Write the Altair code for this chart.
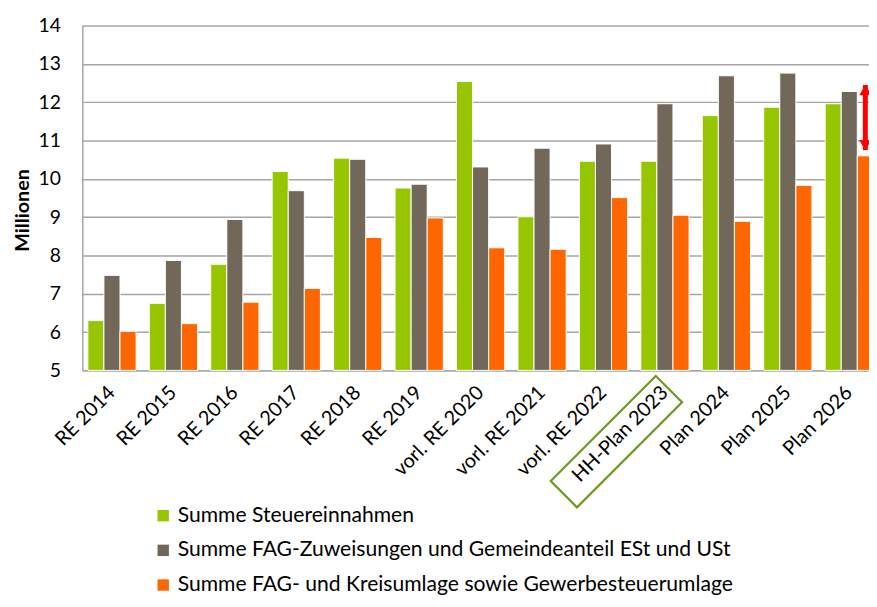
import altair as alt
import pandas as pd

categories = ["RE 2014", "RE 2015", "RE 2016", "RE 2017", "RE 2018", "RE 2019",
              "vorl. RE 2020", "vorl. RE 2021", "vorl. RE 2022", "HH-Plan 2023",
              "Plan 2024", "Plan 2025", "Plan 2026"]
series = ["Summe Steuereinnahmen",
          "Summe FAG-Zuweisungen und Gemeindeanteil ESt und USt",
          "Summe FAG- und Kreisumlage sowie Gewerbesteuerumlage"]
steuer = [6.30, 6.75, 7.77, 10.19, 10.54, 9.76, 12.54, 9.01, 10.46, 10.46, 11.65, 11.87, 11.96]
fag = [7.48, 7.87, 8.94, 9.69, 10.51, 9.86, 10.31, 10.80, 10.91, 11.96, 12.69, 12.76, 12.28]
umlage = [6.02, 6.22, 6.78, 7.14, 8.47, 8.98, 8.20, 8.16, 9.51, 9.05, 8.89, 9.83, 10.60]
colors = ["#95C600", "#72685A", "#FF6600"]
y_ticks = [5, 6, 7, 8, 9, 10, 11, 12, 13, 14]

arrow_category = ["Plan 2026"]
arrow_top = [12.45]
arrow_bottom = [10.75]
box_category = ["HH-Plan 2023"]

FONT = "Lato"

rows = []
for i, c in enumerate(categories):
    for s, vals in zip(series, [steuer, fag, umlage]):
        rows.append({"Kategorie": c, "Reihe": s, "Wert": vals[i]})
df = pd.DataFrame(rows)

x_scale = alt.Scale(domain=categories, range=[0, 804], paddingInner=0.215, paddingOuter=0.09)
y_scale = alt.Scale(domain=[5, 14], zero=False, nice=False)
xo_scale = alt.Scale(domain=series, paddingInner=0, paddingOuter=0)

x_axis = alt.Axis(title=None, labelAngle=-45, labelAlign="right", labelBaseline="middle",
                  labelFontSize=20, labelFont=FONT, labelColor="#000000",
                  labelPadding=19, ticks=False, domainColor="#A6A6A6",
                  domainWidth=1.5, grid=False, labelOverlap=False, labelLimit=300)
y_axis = alt.Axis(title="Millionen", values=y_ticks, ticks=False, labelFontSize=19.5,
                  labelFont=FONT, labelColor="#000000", labelPadding=22,
                  labelOverlap=False, labelBound=False, labelFlush=False,
                  gridColor="#A6A6A6", gridWidth=1.5, domainColor="#A6A6A6",
                  domainWidth=1.5, titleFont=FONT, titleFontSize=20,
                  titleFontWeight="bold", titleColor="#000000",
                  titleX=-60, titleY=186, titleAngle=270, titleAlign="center",
                  titleBaseline="middle")

enc_x = alt.X("Kategorie:N", scale=x_scale, sort=categories, axis=x_axis)
enc_xo = alt.XOffset("Reihe:N", scale=xo_scale, sort=series)

bars = alt.Chart(df).mark_bar(stroke="white", strokeWidth=1).encode(
    x=enc_x,
    xOffset=enc_xo,
    y=alt.Y("Wert:Q", scale=y_scale, axis=y_axis),
    y2=alt.datum(5),
    color=alt.Color("Reihe:N", scale=alt.Scale(domain=series, range=colors), sort=series,
                    legend=alt.Legend(orient="none", legendX=71, legendY=484, title=None,
                                      direction="vertical", symbolType="square",
                                      symbolSize=132, symbolStrokeWidth=0,
                                      labelFontSize=21.3, labelFont=FONT, labelColor="#000000",
                                      labelLimit=900, rowPadding=13, labelOffset=4)),
)

arrow_df = pd.DataFrame({"Kategorie": arrow_category, "top": arrow_top, "bottom": arrow_bottom,
                         "Reihe": [series[2]]})
arrow_rule = alt.Chart(arrow_df).mark_rule(color="#FF0000", strokeWidth=5).encode(
    x=enc_x, xOffset=enc_xo,
    y=alt.Y("top:Q", scale=y_scale, axis=y_axis),
    y2="bottom:Q",
)
arrow_head_top = alt.Chart(arrow_df).mark_point(shape="triangle-up", filled=True, color="#FF0000",
                                                size=150, opacity=1, yOffset=5).encode(
    x=enc_x, xOffset=enc_xo,
    y=alt.Y("top:Q", scale=y_scale, axis=y_axis),
)
arrow_head_bottom = alt.Chart(arrow_df).mark_point(shape="triangle-down", filled=True, color="#FF0000",
                                                   size=150, opacity=1, yOffset=-5).encode(
    x=enc_x, xOffset=enc_xo,
    y=alt.Y("bottom:Q", scale=y_scale, axis=y_axis),
)

box_df = pd.DataFrame({"Kategorie": box_category})
box = alt.Chart(box_df).mark_point(
    shape="M-1,-0.25L1,-0.25L1,0.25L-1,0.25Z", size=22500, angle=315, filled=False,
    stroke="#6E9A1E", strokeWidth=2.2, opacity=1, xOffset=-49, yOffset=72,
).encode(
    x=enc_x,
    y=alt.Y(datum=5, scale=y_scale, axis=y_axis),
)

chart = alt.layer(bars, arrow_rule, arrow_head_top, arrow_head_bottom, box).properties(
    width=794, height=348,
    autosize=alt.AutoSizeParams(type="none"),
    padding={"left": 75, "top": 15, "right": 0, "bottom": 228},
).configure_view(stroke=None)

chart.save("out.html", embed_options={"renderer": "svg", "actions": False})
